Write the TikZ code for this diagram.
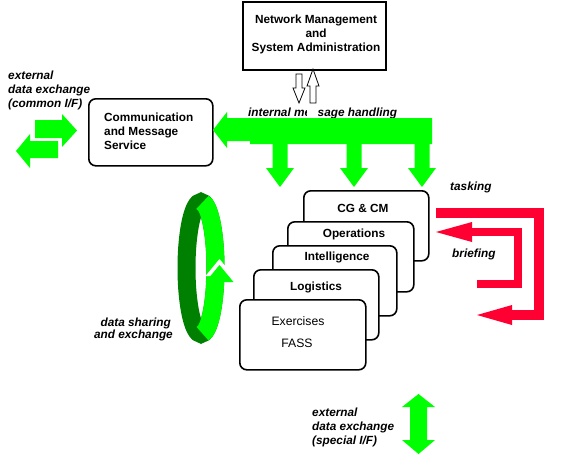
\documentclass[tikz,border=0pt]{standalone}
\usepackage{fontspec}
\setmainfont{Liberation Sans}
\definecolor{lgreen}{RGB}{0,255,0}
\definecolor{dgreen}{RGB}{0,128,0}
\definecolor{myred}{RGB}{255,0,51}
\begin{document}
\begin{tikzpicture}[x=1pt,y=-1pt,
  bf/.style={font=\fontsize{11.8}{14}\selectfont\bfseries, inner sep=0pt},
  bi/.style={font=\fontsize{11.8}{14}\selectfont\bfseries\itshape, inner sep=0pt},
  rg/.style={font=\fontsize{12.2}{14}\selectfont, inner sep=0pt},
  rbox/.style={draw, line width=1.6pt, rounded corners=7pt, fill=white, anchor=north west, inner sep=0pt},
  sbox/.style={draw, line width=1.6pt, fill=white, anchor=north west, inner sep=0pt},
  hollow/.style={draw=black, line width=0.8pt, fill=white},
  redline/.style={draw=myred, line join=miter},
  ringband/.style={line width=18pt}
]
\useasboundingbox (0,0) rectangle (579,456);

% Network management box
\node[sbox, minimum width=143, minimum height=68] (nms) at (242,1) {};
\node[bf, anchor=base] (nms1) at (316,23) {Network Management};
\node[bf, anchor=base] (nms2) at (316,37) {and};
\node[bf, anchor=base] (nms3) at (316,51) {System Administration};

% internal message handling text
\node[bi, anchor=base west] (imh) at (248,116) {internal message handling};

% hollow arrows
\fill[white] (307,103) rectangle (318,118);
\draw[hollow] (296,74) -- (302,74) -- (302,88) -- (305,88) -- (299,103) -- (293,88) -- (296,88) -- cycle;
\draw[hollow] (310,103) -- (316,103) -- (316,86) -- (319,86) -- (313,69) -- (307,86) -- (310,86) -- cycle;

% Communication box
\node[rbox, minimum width=124, minimum height=67] (cms) at (88,98) {};
\node[bf, anchor=base west] (cms1) at (104,121) {Communication};
\node[bf, anchor=base west] (cms2) at (104,135) {and Message};
\node[bf, anchor=base west] (cms3) at (104,149) {Service};

% big green bus arrow
\fill[lgreen] (432,118) -- (432,144) -- (250,144) -- (250,141) -- (227,141) -- (227,148)
  -- (213,130) -- (227,112) -- (227,118) -- cycle;
\foreach \cx in {280,354,422}{
  \fill[lgreen] (\cx-7.5,143) -- (\cx+7.5,143) -- (\cx+7.5,168) -- (\cx+14,168) -- (\cx,187)
    -- (\cx-14,168) -- (\cx-7.5,168) -- cycle;
}

% left external arrows
\node[bi, anchor=base west] (ext1) at (8,79) {external};
\node[bi, anchor=base west] (ext2) at (8,93) {data exchange};
\node[bi, anchor=base west] (ext3) at (8,107) {(common I/F)};
\fill[lgreen] (35,120) -- (62,120) -- (62,114) -- (77,130.5) -- (62,147) -- (62,138) -- (35,138) -- cycle;
\fill[lgreen] (58,141) -- (30,141) -- (30,134) -- (16,151) -- (30,168) -- (30,158) -- (58,158) -- cycle;

% stacked boxes
\node[rbox, minimum width=125, minimum height=70] (cgcm) at (303,190) {};
\node[bf, anchor=base] (cgcmt) at (363,212) {CG \& CM};
\node[rbox, minimum width=126, minimum height=70] (ops) at (287,221) {};
\node[bf, anchor=base] (opst) at (354,237) {Operations};
\node[rbox, minimum width=124, minimum height=70] (intel) at (272,245) {};
\node[bf, anchor=base] (intelt) at (337,260) {Intelligence};
\node[rbox, minimum width=125, minimum height=70] (logi) at (253,269) {};
\node[bf, anchor=base] (logit) at (316,290) {Logistics};
\node[rbox, minimum width=126, minimum height=70] (exer) at (239,299) {};
\node[rg, anchor=base] (exert) at (298,325) {Exercises};
\node[rg, anchor=base] (fasst) at (297,347) {FASS};

% red tasking / briefing arrows
\node[bi, anchor=base west] (task) at (450,190) {tasking};
\node[bi, anchor=base west] (brief) at (452,257) {briefing};
\draw[redline, line width=10pt] (436,213) -- (538.5,213) -- (538.5,315) -- (511,315);
\fill[myred] (512,305) -- (477,315) -- (512,325) -- cycle;
\draw[redline, line width=8.5pt] (477,284) -- (518,284) -- (518,232) -- (471,232);
\fill[myred] (472,222) -- (436,232) -- (472,242) -- cycle;

% data sharing ring
\coordinate (rc) at (201,268);
\draw[dgreen, ringband] (rc) ellipse [x radius=14.5, y radius=66];
\draw[lgreen, ringband] ([shift={(-84:14.5 and 66)}]rc) arc[start angle=-84, end angle=84, x radius=14.5, y radius=66];
\fill[white] (219.5,259) -- (233.5,276) -- (205.5,276) -- cycle;
\fill[lgreen] (219.5,265) -- (233.5,282) -- (205.5,282) -- cycle;
\node[bi, anchor=base east] (ds1) at (171,326) {data sharing};
\node[bi, anchor=base east] (ds2) at (173,338) {and exchange};

% bottom external exchange
\node[bi, anchor=base west] (bx1) at (312,416) {external};
\node[bi, anchor=base west] (bx2) at (312,430) {data exchange};
\node[bi, anchor=base west] (bx3) at (312,444) {(special I/F)};
\fill[lgreen] (418.5,394) -- (435,407) -- (427,407) -- (427,440) -- (435,440) -- (418.5,454)
  -- (402,440) -- (410,440) -- (410,407) -- (402,407) -- cycle;
\end{tikzpicture}
\end{document}
